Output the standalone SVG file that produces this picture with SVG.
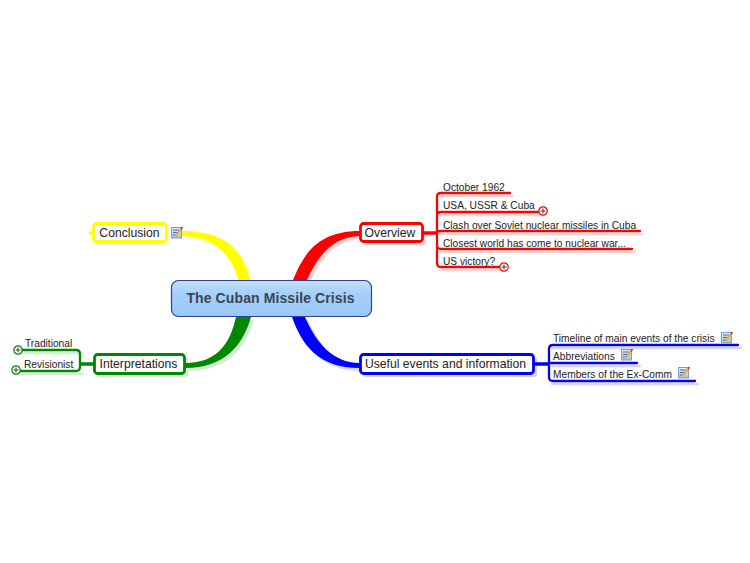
<svg xmlns="http://www.w3.org/2000/svg" width="750" height="563" viewBox="0 0 750 563">
<defs>
<linearGradient id="cg" x1="0" y1="0" x2="0" y2="1"><stop offset="0" stop-color="#c4e0fd"/><stop offset="0.35" stop-color="#a6d0fb"/><stop offset="1" stop-color="#98c8fb"/></linearGradient>
<linearGradient id="ng" x1="0" y1="0" x2="0" y2="1"><stop offset="0" stop-color="#e4eefa"/><stop offset="1" stop-color="#a4c0e6"/></linearGradient>
<path id="r" d="M293 280C303 256 316 231 360 231V236C332 237 318 256 307 280Z"/>
<path id="y" d="M250 280C244 256 232 231 182 231V236C216 237 232 256 238 280Z"/>
<path id="g" d="M236 317C230 343 218 363 185 363V368C225 368 243 345 251 317Z"/>
<path id="b" d="M292 317C302 345 318 368 360 368V363C332 363 316 342 305 317Z"/>
<g id="note">
<rect x="0.500" y="1.500" width="10" height="10.500" fill="url(#ng)" stroke="#7d9cc8"/>
<path d="M2 4H8M2 6.500H7M2 9H6" stroke="#4b6ca3" stroke-width="1" fill="none"/>
<path d="M4.500 10L10 3.500" stroke="#f0b030" stroke-width="2" fill="none"/>
<path d="M9.800 3.500L11.500 1" stroke="#d03020" stroke-width="1.500" fill="none"/>
</g>
<g id="plus">
<circle r="4.200" fill="#fff" stroke="currentColor" stroke-width="1.200"/>
<path d="M-2.500 0H2.500M0 -2.500V2.500" stroke="#444" stroke-width="1.100" fill="none"/>
</g>
</defs>
<style>
.t{font-family:"Liberation Sans",Arial,sans-serif;font-size:10.2px;fill:#222}
.m{font-family:"Liberation Sans",Arial,sans-serif;font-size:12.2px;fill:#222}
.c{font-family:"Liberation Sans",Arial,sans-serif;font-size:14px;font-weight:bold;fill:#3c4450;letter-spacing:.1px}
.n{fill:#fff;stroke-width:2.800}
.l{fill:none;stroke-width:2.300;stroke-linecap:round;stroke-linejoin:round}
</style>
<rect width="750" height="563" fill="#fff"/>
<g id="connectors">
<g opacity="0.16" transform="translate(3,3)">
<use href="#r" fill="#f00"/>
<use href="#y" fill="#ff0"/>
<use href="#g" fill="#080"/>
<use href="#b" fill="#00f"/>
<path d="M437 193H510M437 212H540M437 231H640M437 249H632M437 267H500" stroke="#f00" class="l"/>
<path d="M549 345H738M549 363H637M549 381H695" stroke="#00f" class="l"/>
<path d="M80 350H18M80 371H15" stroke="#080" class="l"/>
<rect x="360" y="223" width="63" height="19" rx="3" fill="#f00"/>
<rect x="93" y="223" width="74" height="19" rx="3" fill="#ff0"/>
<rect x="94" y="354" width="91" height="20" rx="3" fill="#080"/>
<rect x="360" y="354" width="174" height="20" rx="3" fill="#00f"/>
</g>
<use href="#r" fill="#f00"/>
<use href="#y" fill="#ff0"/>
<use href="#g" fill="#080"/>
<use href="#b" fill="#00f"/>
<path d="M510 193H441Q437 193 437 197V263Q437 267 441 267H500M540 212H441Q437 212 437 216M640 231H441Q437 231 437 233M632 249H441Q437 249 437 245" stroke="#f00" class="l"/>
<path d="M423 233H437" stroke="#f00" fill="none" stroke-width="3.500"/>
<path d="M738 345H553Q549 345 549 349V377Q549 381 553 381H695M637 363H549" stroke="#00f" class="l"/>
<path d="M534 364H549" stroke="#00f" fill="none" stroke-width="3.500"/>
<path d="M18 350H76Q80 350 80 354V367Q80 371 76 371H15" stroke="#080" class="l"/>
<path d="M80 364H94" stroke="#080" fill="none" stroke-width="3.500"/>
<path d="M89 233H93" stroke="#ff0" fill="none" stroke-width="3.500"/>
</g>
<g id="central">
<rect x="171.500" y="280.500" width="200" height="36" rx="7" fill="url(#cg)" stroke="#2e3f9e" stroke-width="1.200"/>
<text class="c" x="270.500" y="303" text-anchor="middle">The Cuban Missile Crisis</text>
</g>
<g id="overview">
<rect class="n" x="360.500" y="223.500" width="62" height="18" rx="3" stroke="#f00"/>
<text class="m" x="390" y="237" text-anchor="middle">Overview</text>
</g>
<g id="conclusion">
<rect class="n" x="93.500" y="223.500" width="73" height="18" rx="3" stroke="#ff0"/>
<text class="m" x="129.500" y="237" text-anchor="middle">Conclusion</text>
<use href="#note" x="171" y="226"/>
</g>
<g id="interpretations">
<rect class="n" x="94.500" y="354.500" width="90" height="19" rx="3" stroke="#080"/>
<text class="m" x="138.500" y="368" text-anchor="middle">Interpretations</text>
</g>
<g id="useful">
<rect class="n" x="360.500" y="354.500" width="173" height="19" rx="3" stroke="#00f"/>
<text class="m" x="445.500" y="368" text-anchor="middle">Useful events and information</text>
</g>
<g id="overview-items">
<text class="t" x="443" y="190.500">October 1962</text>
<text class="t" x="443" y="208.500">USA, USSR &amp; Cuba</text>
<use href="#plus" x="543" y="211" color="#f00"/>
<text class="t" x="443" y="228.500">Clash over Soviet nuclear missiles in Cuba</text>
<text class="t" x="443" y="246.500">Closest world has come to nuclear war...</text>
<text class="t" x="443" y="264.500">US victory?</text>
<use href="#plus" x="504" y="267" color="#f00"/>
</g>
<g id="useful-items">
<text class="t" x="553" y="341.500">Timeline of main events of the crisis</text>
<use href="#note" x="721" y="331"/>
<text class="t" x="553" y="359.500">Abbreviations</text>
<use href="#note" x="621" y="348"/>
<text class="t" x="553" y="377.500">Members of the Ex-Comm</text>
<use href="#note" x="678" y="366"/>
</g>
<g id="interpretation-items">
<text class="t" x="25" y="346.500">Traditional</text>
<use href="#plus" x="18" y="350" color="#080"/>
<text class="t" x="24" y="367.500">Revisionist</text>
<use href="#plus" x="16" y="370" color="#080"/>
</g>
</svg>
